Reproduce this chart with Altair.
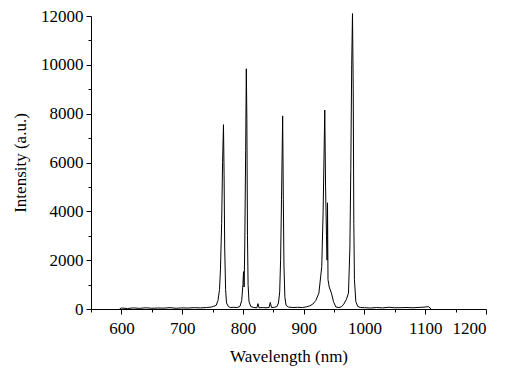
import altair as alt
import pandas as pd

wavelength = [
    597, 600, 610, 620, 630, 640, 650, 660, 670, 680, 690, 700, 710, 720, 730, 740, 748,
    752, 756, 759, 761.5, 763, 765, 766.5, 768, 769, 770, 771.5, 773, 776, 780,
    785, 790, 795, 798, 800, 801, 802, 803, 804.5, 805.6, 806.5, 807.5, 808.5, 810, 813,
    818, 823, 824.7, 826.5, 832, 838, 843, 845, 847, 852, 856, 858.5, 860.5,
    862, 863.5, 865.4, 866.5, 867.5, 869, 871, 875, 882, 890, 898, 905, 910,
    915, 920, 925, 929.7, 932, 934.7, 936, 937.5, 938.5, 939.2, 940, 942, 945.7, 949, 953,
    958, 962, 966, 970.4, 973.7, 976, 977.5, 979, 980.3, 981.5, 982.5, 983.5, 985.8, 989, 994,
    1000, 1010, 1020, 1030, 1040, 1050, 1060, 1070, 1080, 1090, 1100, 1105, 1110,
]
intensity = [
    0, 40, 20, 45, 25, 50, 30, 40, 35, 55, 30, 45, 40, 55, 45, 60, 80,
    110, 150, 350, 800, 1600, 3500, 6000, 7550, 5500, 2500, 800, 250, 100, 60,
    70, 60, 100, 350, 1000, 1530, 900, 2500, 6500, 9840, 7750, 3000, 1000, 300, 100,
    60, 50, 220, 50, 60, 50, 60, 270, 60, 70, 100, 250, 700,
    2000, 4500, 7910, 4500, 1800, 500, 150, 80, 60, 70, 60, 90, 130,
    200, 350, 650, 1730, 4000, 8150, 5000, 3000, 2000, 4350, 1200, 900, 650, 300, 80,
    60, 90, 200, 400, 650, 2500, 5700, 10000, 12100, 9000, 3500, 1200, 300, 100, 60,
    55, 40, 60, 45, 70, 50, 55, 60, 50, 65, 80, 100, 0,
]

x_ticks = list(range(550, 1201, 50))
y_ticks = list(range(0, 12001, 1000))

df = pd.DataFrame({"wavelength": wavelength, "intensity": intensity})

FONT = "Liberation Serif"

chart = (
    alt.Chart(df)
    .mark_line(color="black", strokeWidth=1, clip=False)
    .encode(
        x=alt.X(
            "wavelength:Q",
            scale=alt.Scale(domain=[550, 1200], nice=False, zero=False),
            axis=alt.Axis(
                title="Wavelength (nm)",
                values=x_ticks,
                format="d",
                labelExpr="datum.value % 100 === 0 && datum.value >= 600 ? datum.label : ''",
                tickSize={"condition": {"test": "datum.value % 100 === 0", "value": 5}, "value": 3},
                labelOverlap=False,
                labelPadding=6,
                titlePadding=12,
            ),
        ),
        y=alt.Y(
            "intensity:Q",
            scale=alt.Scale(domain=[0, 12000], nice=False),
            axis=alt.Axis(
                title="Intensity (a.u.)",
                values=y_ticks,
                format="d",
                labelExpr="datum.value % 2000 === 0 ? datum.label : ''",
                tickSize={"condition": {"test": "datum.value % 2000 === 0", "value": 5}, "value": 3},
                labelOverlap=False,
                labelPadding=3,
                titlePadding=11,
            ),
        ),
    )
    .properties(
        width=395,
        height=293,
        autosize="none",
        padding={"left": 83, "top": 8, "right": 32, "bottom": 58},
    )
    .configure_view(stroke=None)
    .configure_axis(
        grid=False,
        domainColor="black",
        tickColor="black",
        labelColor="black",
        titleColor="black",
        labelFont=FONT,
        titleFont=FONT,
        labelFontSize=17,
        titleFontSize=17,
        titleFontWeight="normal",
        domainWidth=1,
        tickWidth=1,
    )
)

chart.save("out.html", embed_options={"renderer": "svg", "actions": False})
